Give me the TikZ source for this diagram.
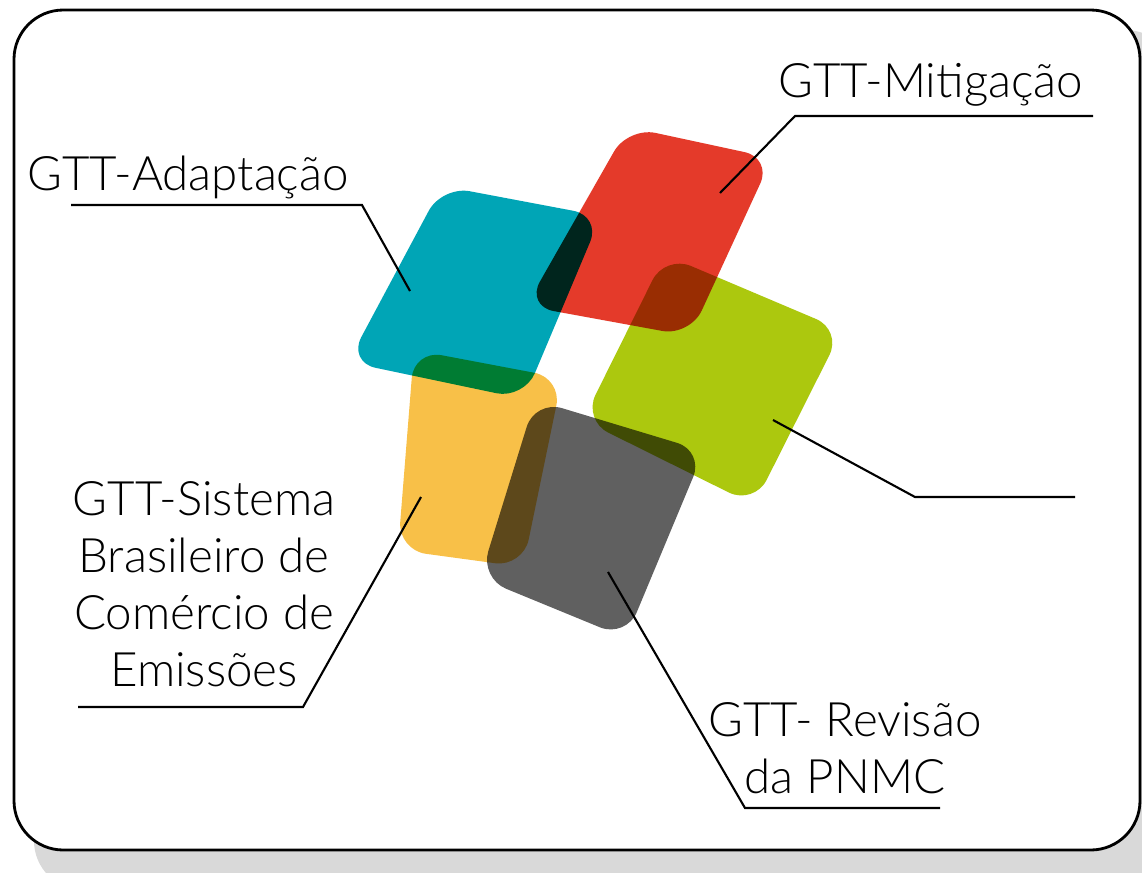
\documentclass[tikz,border=0pt]{standalone}
\usepackage{fontspec}
\setmainfont{Lato}[UprightFont=* Light]
\usepackage{xcolor}
\usetikzlibrary{positioning}
\definecolor{gttblue}{RGB}{0,165,182}
\definecolor{gttred}{RGB}{228,58,42}
\definecolor{gttgreen}{RGB}{172,200,14}
\definecolor{gttyellow}{RGB}{248,192,72}
\definecolor{gttgrey}{RGB}{96,96,96}
\definecolor{shadowgrey}{RGB}{217,217,217}
\tikzset{
  lbl/.style={font=\fontsize{13.5}{16.2}\selectfont, inner sep=0pt, align=center},
  lead/.style={line width=0.6pt},
  tile/.style={rounded corners=8pt}
}
\begin{document}
\begin{tikzpicture}[x=0.01cm,y=-0.01cm]
\useasboundingbox (0,0) rectangle (1142,872);
% frame and shadow
\fill [shadowgrey, rounded corners=14pt] (34,30) rectangle (1175,890);
\draw [line width=0.8pt, fill=white, rounded corners=14pt] (14,10) rectangle (1140,850);
% the five tiles
\begin{scope}[blend group=multiply]
\fill [gttblue, tile]   (442,186) -- (601,216) -- (524,399) -- (348,362) -- cycle;
\fill [gttred, tile]    (628,127) -- (772,158) -- (690,336) -- (526,306) -- cycle;
\fill [gttgreen, tile]  (665,255) -- (842,330) -- (754,505) -- (583,420) -- cycle;
\fill [gttyellow, tile] (414,350) -- (562,378) -- (523,567) -- (398,550) -- cycle;
\fill [gttgrey, tile]   (535,400) -- (704,451) -- (626,638) -- (480,578) -- cycle;
\end{scope}
% labels
\node [lbl, anchor=base west] (adapt) at (27,190) {GTT-Adapta\c{c}\~ao};
\node [lbl, anchor=base west] (mitig) at (778,97) {GTT-Mitiga\c{c}\~ao};
\node [lbl, anchor=north] (sbce) at (204,481) {GTT-Sistema\\Brasileiro de\\Com\'ercio de\\Emiss\~oes};
\node [lbl, anchor=north] (pnmc) at (845,702) {GTT- Revis\~ao\\da PNMC};
% leader lines
\coordinate (adaptTip) at (410,291);  \coordinate (adaptKnee) at (362,205); \coordinate (adaptEnd) at (71,205);
\coordinate (mitigTip) at (720,193);  \coordinate (mitigKnee) at (795,116); \coordinate (mitigEnd) at (1093,116);
\coordinate (greenTip) at (773,420);  \coordinate (greenKnee) at (915,497); \coordinate (greenEnd) at (1075,497);
\coordinate (sbceTip) at (421,497);   \coordinate (sbceKnee) at (303,707);  \coordinate (sbceEnd) at (78,707);
\coordinate (pnmcTip) at (608,572);   \coordinate (pnmcKnee) at (745,808);  \coordinate (pnmcEnd) at (940,808);
\draw [lead] (adaptTip) -- (adaptKnee) -- (adaptEnd);
\draw [lead] (mitigTip) -- (mitigKnee) -- (mitigEnd);
\draw [lead] (greenTip) -- (greenKnee) -- (greenEnd);
\draw [lead] (sbceTip) -- (sbceKnee) -- (sbceEnd);
\draw [lead] (pnmcTip) -- (pnmcKnee) -- (pnmcEnd);
\end{tikzpicture}
\end{document}
